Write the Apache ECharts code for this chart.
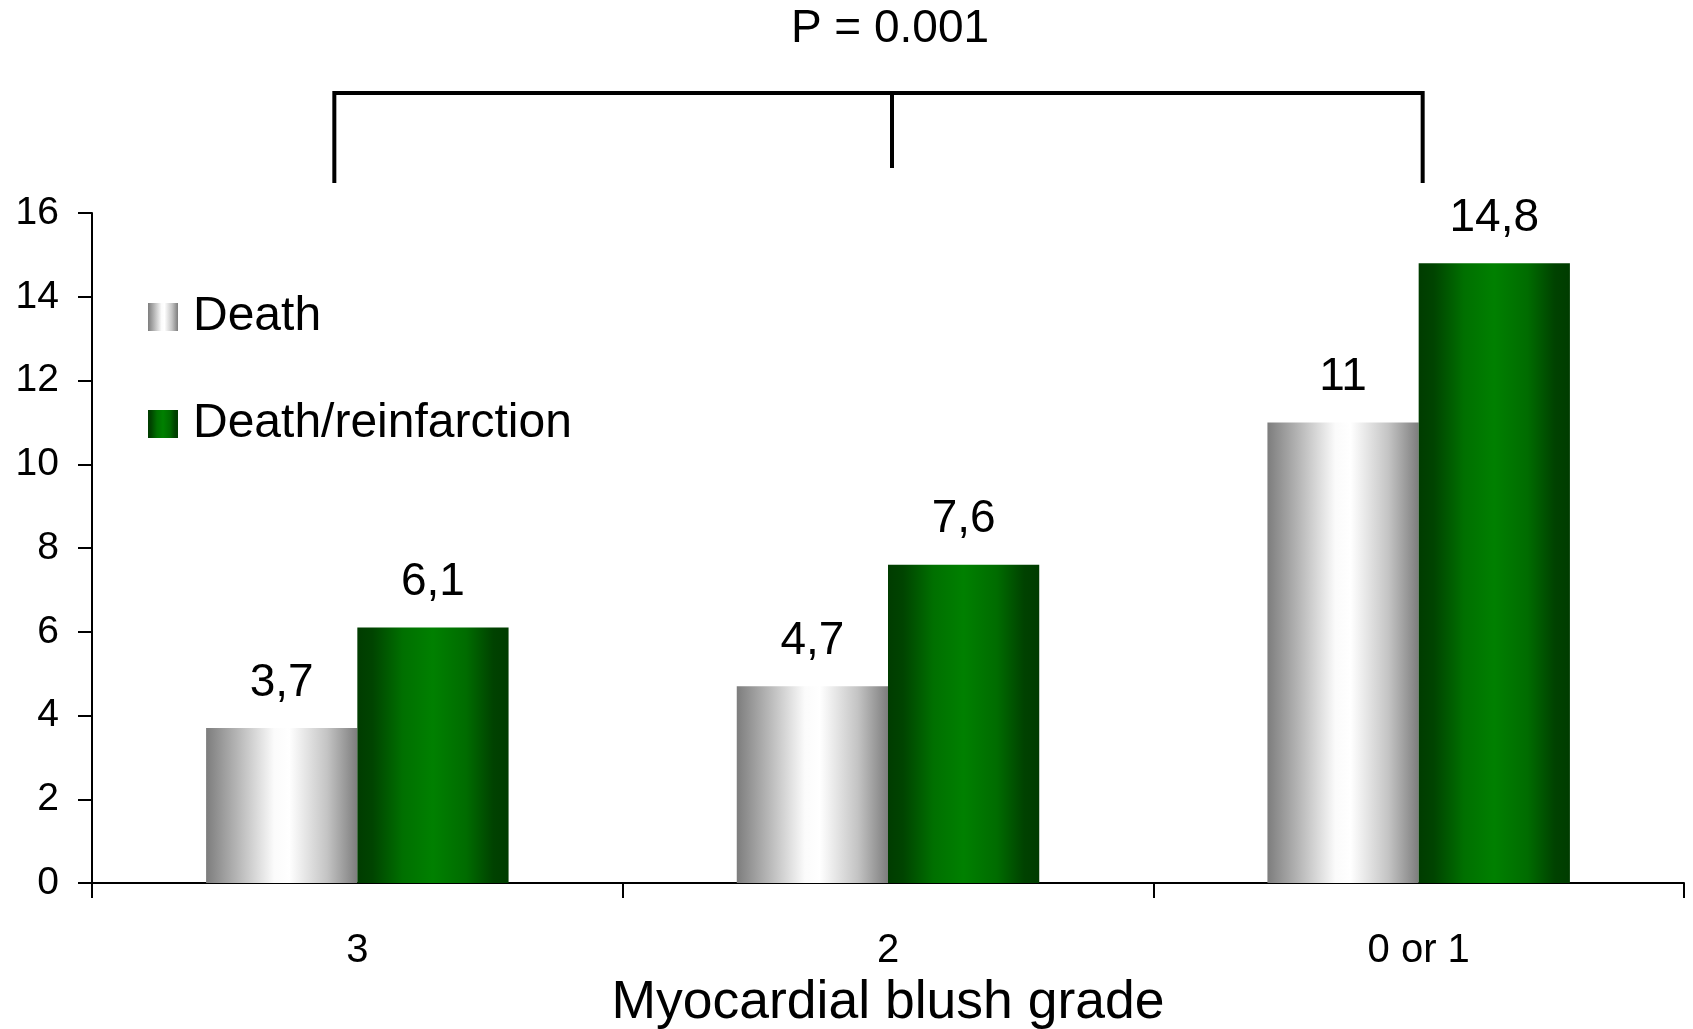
<!DOCTYPE html>
<html>
<head>
<meta charset="utf-8">
<script src="https://cdn.jsdelivr.net/npm/echarts@6/dist/echarts.min.js"></script>
<style>
  html, body { margin: 0; padding: 0; background: #fff; }
  #chart { width: 1693px; height: 1029px; }
</style>
</head>
<body>
<div id="chart"></div>
<script>
// 데이터
const categories = ['3', '2', '0 or 1'];
const deathValues = [3.7, 4.7, 11];
const deathReinfValues = [6.1, 7.6, 14.8];
const yTicks = [0, 2, 4, 6, 8, 10, 12, 14, 16];
const pValueText = 'P = 0.001';

const FONT = 'Liberation Sans, Arial, sans-serif';

(function () {
  const chart = echarts.init(document.getElementById('chart'));

  // 막대 그라데이션 (좌→우)
  const greyGrad = new echarts.graphic.LinearGradient(0, 0, 1, 0, [
    { offset: 0, color: '#7d7d7d' },
    { offset: 0.2, color: '#b4b4b4' },
    { offset: 0.45, color: '#fbfbfb' },
    { offset: 0.55, color: '#ffffff' },
    { offset: 0.8, color: '#c4c4c4' },
    { offset: 1, color: '#7d7d7d' }
  ]);
  const greenGrad = new echarts.graphic.LinearGradient(0, 0, 1, 0, [
    { offset: 0, color: '#003c00' },
    { offset: 0.1, color: '#004400' },
    { offset: 0.3, color: '#007000' },
    { offset: 0.5, color: '#008000' },
    { offset: 0.72, color: '#006c00' },
    { offset: 0.9, color: '#004200' },
    { offset: 1, color: '#003c00' }
  ]);

  const valueLabel = {
    show: true,
    position: 'top',
    distance: 22,
    fontFamily: FONT,
    fontSize: 46,
    color: '#000',
    formatter: function (p) {
      return String(p.value).replace('.', ',');
    }
  };

  const option = {
    backgroundColor: '#fff',
    animation: false,
    grid: {
      left: 92,
      right: 9,
      top: 213,
      bottom: 146,
      containLabel: false,
      outerBoundsMode: 'none'
    },
    legend: {
      orient: 'vertical',
      left: 143,
      top: 287,
      itemWidth: 30,
      itemHeight: 28,
      itemGap: 57,
      icon: 'rect',
      textStyle: {
        fontFamily: FONT,
        fontSize: 48,
        lineHeight: 50,
        color: '#000',
        padding: [0, 0, 0, 10]
      },
      data: ['Death', 'Death/reinfarction']
    },
    xAxis: {
      type: 'category',
      data: categories,
      name: 'Myocardial blush grade',
      nameLocation: 'middle',
      nameGap: 93,
      nameTextStyle: {
        fontFamily: FONT,
        fontSize: 53.5,
        color: '#000'
      },
      axisLine: { lineStyle: { color: '#000', width: 2 } },
      axisTick: { show: true, length: 15, lineStyle: { color: '#000', width: 2 } },
      axisLabel: {
        fontFamily: FONT,
        fontSize: 40,
        color: '#000',
        margin: 48
      }
    },
    yAxis: {
      type: 'value',
      min: yTicks[0],
      max: yTicks[yTicks.length - 1],
      interval: 2,
      splitLine: { show: false },
      axisLine: { show: true, lineStyle: { color: '#000', width: 2 } },
      axisTick: { show: true, length: 14, lineStyle: { color: '#000', width: 2 } },
      axisLabel: {
        fontFamily: FONT,
        fontSize: 39,
        color: '#000',
        margin: 33
      }
    },
    series: [
      {
        name: 'Death',
        type: 'bar',
        data: deathValues,
        barGap: '0%',
        barCategoryGap: '43%',
        itemStyle: { color: greyGrad },
        label: valueLabel
      },
      {
        name: 'Death/reinfarction',
        type: 'bar',
        data: deathReinfValues,
        barGap: '0%',
        barCategoryGap: '43%',
        itemStyle: { color: greenGrad },
        label: valueLabel
      }
    ]
  };

  chart.setOption(option);

  // P값 괄호 (카테고리 위치 기준)
  const legs = [
    { cat: 0, dx: -23, drop: 90 },
    { cat: 1, dx: 4, drop: 75 },
    { cat: 2, dx: 4, drop: 90 }
  ];
  const topY = 93;
  const xs = legs.map(function (l) {
    return chart.convertToPixel({ xAxisIndex: 0 }, categories[l.cat]) + l.dx;
  });
  const lineStyle = { stroke: '#000', lineWidth: 4 };
  const elements = [
    {
      type: 'polyline',
      shape: { points: [[xs[0], topY + legs[0].drop], [xs[0], topY], [xs[2], topY], [xs[2], topY + legs[2].drop]] },
      style: Object.assign({ fill: null }, lineStyle)
    },
    {
      type: 'line',
      shape: { x1: xs[1], y1: topY, x2: xs[1], y2: topY + legs[1].drop },
      style: lineStyle
    },
    {
      type: 'text',
      x: xs[1] - 2,
      y: 29,
      style: {
        text: pValueText,
        font: '46px ' + FONT,
        fill: '#000',
        align: 'center',
        verticalAlign: 'middle'
      }
    }
  ];
  chart.setOption({ graphic: elements });
})();
</script>
</body>
</html>
